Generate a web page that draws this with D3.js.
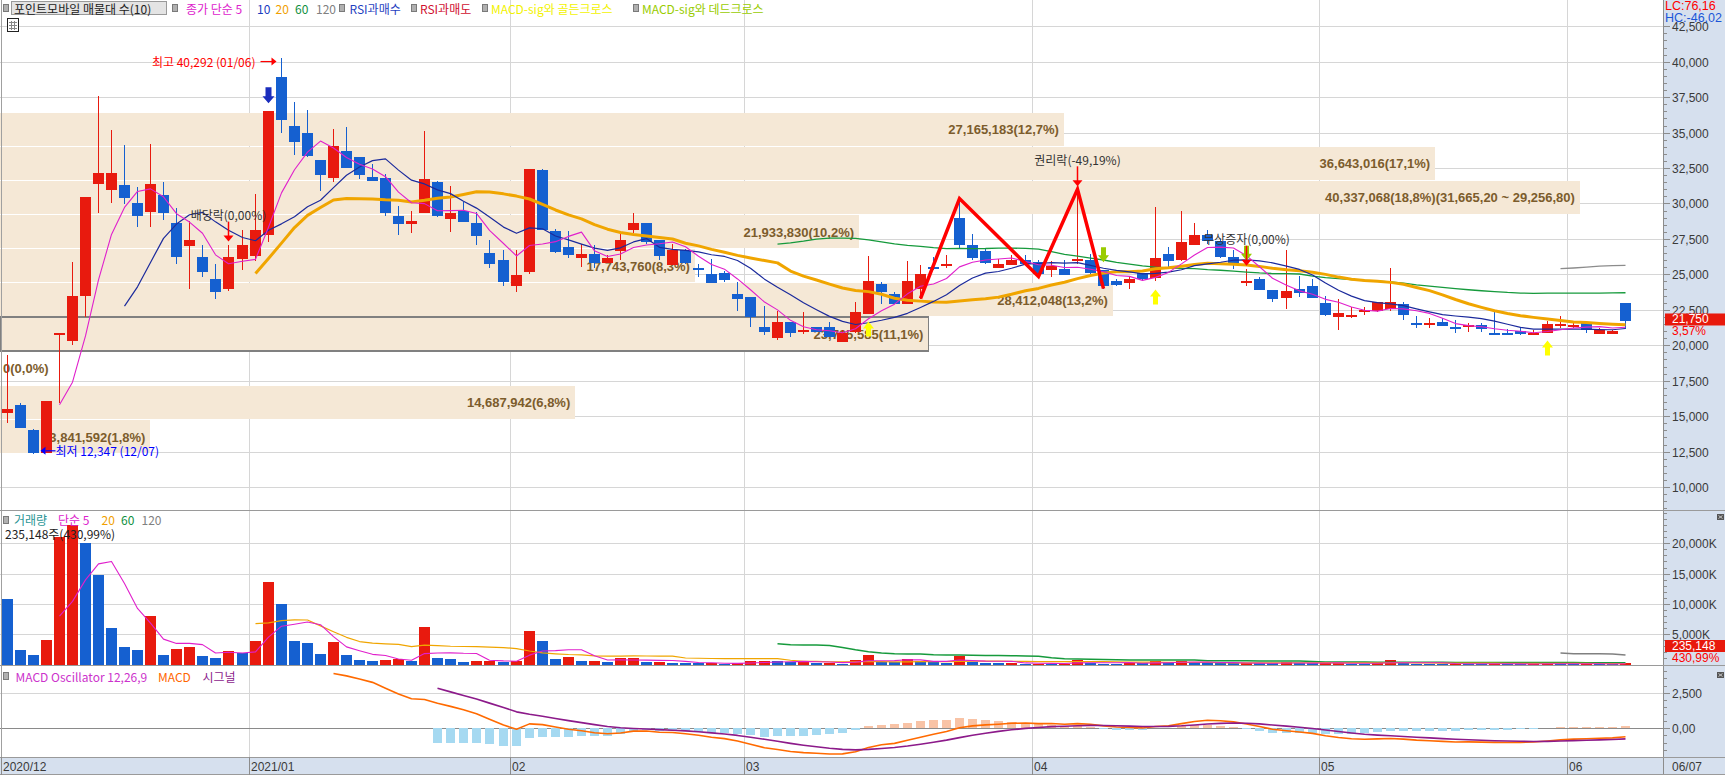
<!DOCTYPE html>
<html><head><meta charset="utf-8">
<script src="https://cdn.jsdelivr.net/npm/d3@7/dist/d3.min.js"></script>
<style>
html,body{margin:0;padding:0;background:#fff;overflow:hidden;}
svg{display:block;}
text{font-family:"Liberation Sans Narrow","Liberation Sans","Noto Sans CJK KR",sans-serif;}
.kr{font-family:"Noto Sans CJK KR","Liberation Sans",sans-serif;}
</style></head><body>
<svg id="chart" width="1725" height="775"></svg>
<script>
// ---------------- DATA ----------------
const dates = [
"2020-12-03","2020-12-04","2020-12-07","2020-12-08","2020-12-09","2020-12-10","2020-12-11","2020-12-14","2020-12-15","2020-12-16","2020-12-17","2020-12-18","2020-12-21","2020-12-22","2020-12-23","2020-12-24","2020-12-28","2020-12-29","2020-12-30",
"2021-01-04","2021-01-05","2021-01-06","2021-01-07","2021-01-08","2021-01-11","2021-01-12","2021-01-13","2021-01-14","2021-01-15","2021-01-18","2021-01-19","2021-01-20","2021-01-21","2021-01-22","2021-01-25","2021-01-26","2021-01-27","2021-01-28","2021-01-29",
"2021-02-01","2021-02-02","2021-02-03","2021-02-04","2021-02-05","2021-02-08","2021-02-09","2021-02-10","2021-02-15","2021-02-16","2021-02-17","2021-02-18","2021-02-19","2021-02-22","2021-02-23","2021-02-24","2021-02-25","2021-02-26",
"2021-03-02","2021-03-03","2021-03-04","2021-03-05","2021-03-08","2021-03-09","2021-03-10","2021-03-11","2021-03-12","2021-03-15","2021-03-16","2021-03-17","2021-03-18","2021-03-19","2021-03-22","2021-03-23","2021-03-24","2021-03-25","2021-03-26","2021-03-29","2021-03-30","2021-03-31",
"2021-04-01","2021-04-02","2021-04-05","2021-04-06","2021-04-07","2021-04-08","2021-04-09","2021-04-12","2021-04-13","2021-04-14","2021-04-15","2021-04-16","2021-04-19","2021-04-20","2021-04-21","2021-04-22","2021-04-23","2021-04-26","2021-04-27","2021-04-28","2021-04-29","2021-04-30",
"2021-05-03","2021-05-04","2021-05-06","2021-05-07","2021-05-10","2021-05-11","2021-05-12","2021-05-13","2021-05-14","2021-05-17","2021-05-18","2021-05-20","2021-05-21","2021-05-24","2021-05-25","2021-05-26","2021-05-27","2021-05-28","2021-05-31",
"2021-06-01","2021-06-02","2021-06-03","2021-06-04","2021-06-07"];

const openP = [15200,15800,14000,12400,20900,20300,23500,31350,30950,31300,30000,29350,30600,28600,27050,26200,24650,23950,26100,
 26300,27750,38900,35500,34950,33050,31800,33700,33250,31850,31800,29150,28550,29300,31500,28900,29500,28600,26500,26050,
 24200,25150,32350,28050,26900,26150,26450,25800,26650,28150,28650,27400,25700,26700,25450,25050,25100,23650,
 23400,21300,20550,21650,20900,21300,21300,20300,20950,22250,24300,23650,22950,23950,25500,25550,28950,27100,26650,25450,25700,26050,
 25900,25300,25350,25950,26050,25300,24550,24350,25100,24750,26450,25950,27100,27800,27350,26200,24500,24650,23900,23300,23950,24200,
 22950,22000,22000,22350,22450,22550,22900,21600,21450,21650,21300,21250,21400,20900,20900,21000,20800,20900,21400,
 21250,21650,20800,20800,23000];
const highP = [19300,15950,14100,16100,20900,25850,30450,37550,35150,34100,31150,34200,31500,29650,28750,27100,25750,27100,28150,
 30650,36500,40292,37150,36600,33050,35250,35400,33250,32800,32100,29800,29500,35100,31600,31250,30100,29400,27450,26700,
 26700,32400,32400,28200,28050,27150,27100,26400,28000,29350,28650,27400,27150,26800,25750,26100,25250,24450,
 23400,22750,22450,21650,22350,21300,21650,21050,23050,26300,24450,23750,25950,25650,26250,26400,30350,27850,26800,26100,26400,26350,
 26050,25950,26000,31000,26450,25300,24700,24900,25100,29750,26900,29450,28600,28150,27500,26700,25400,24850,23900,26700,24900,24700,
 23450,23300,22700,22700,23050,25450,23050,22050,21950,21950,21800,21550,21550,22400,21150,21200,21100,21700,22050,
 21650,21650,21250,21100,23000];
const lowP = [14500,14150,12347,12400,15900,20000,22000,29300,30000,29950,28350,28350,28850,25700,23950,24850,23250,23800,25300,
 25950,27300,35000,33450,33300,30850,31550,32500,31750,31600,29150,27800,27900,29300,29050,28000,28700,27050,25450,24150,
 23750,25050,28100,26500,26150,25500,25450,25800,26050,27900,27150,26050,25700,25750,24800,24400,24450,22450,
 21300,20700,20350,20600,20800,20950,20600,20300,20900,22250,22900,22950,22950,23300,25300,25450,26800,26000,25700,25450,25650,25750,
 24850,24850,24950,25750,25050,24000,24200,24000,24600,24500,25550,25950,27100,27150,26150,25400,24200,23900,23050,22550,23400,23350,
 22100,21100,21950,22150,22350,22450,21800,21250,21250,21350,20900,20950,20950,20750,20750,20750,20750,20900,21250,
 21200,20900,20800,20800,21150];
const closeP = [15500,14150,12400,16100,20900,23450,30450,32150,32150,30400,29100,31350,29350,26200,27450,25150,23750,26200,27100,
 28100,36500,35850,34350,33300,32000,34050,32500,32000,31600,29300,28600,28750,31700,29100,29350,28700,27650,25700,24500,
 24950,32400,28150,26550,26350,26450,25800,26150,27450,28650,27300,26250,26750,25800,25300,24400,24600,23300,
 22000,20950,21650,20900,21050,20950,20600,20900,22350,24550,23750,22950,24550,25000,25350,25700,27050,26200,25800,25700,26050,25800,
 25050,25600,24950,26100,25100,24200,24250,24650,24700,26150,25950,27250,27800,27350,26250,25650,24550,23900,23300,23800,23650,23350,
 22100,22250,22150,22500,23050,23050,22100,21500,21550,21350,21150,21400,21100,20850,20800,20800,20900,21500,21500,
 21400,21100,21100,21000,21750];
// volume, thousands of shares
const volumeK = [10800,2400,1550,4050,21100,23000,20100,14750,6100,2900,2400,8000,1550,2550,2900,1400,1050,2250,1850,
 3900,13600,10000,3900,3600,1750,3750,1550,750,580,750,850,630,6200,1050,900,470,500,630,470,
 630,5500,3900,910,1240,580,610,410,1070,1090,410,430,330,300,180,200,80,190,
 570,600,580,350,470,300,320,140,740,1570,360,350,910,630,360,300,1460,410,250,240,260,140,
 150,140,150,800,250,150,140,250,200,630,250,580,300,250,220,200,280,200,180,400,200,170,
 250,300,150,130,180,740,250,150,130,120,140,120,110,150,60,50,70,250,150,
 90,120,70,44.285,235.148];

// 매물대 (volume by price, 10 bands, bottom -> top)
const bandLow  = [12398.0,14806.4,17214.8,19623.2,22031.6,24440.0,26848.4,29256.8,31665.2,34073.6];
const bandHigh = [14806.4,17214.8,19623.2,22031.6,24440.0,26848.4,29256.8,31665.2,34073.6,36482.0];
const bandVol  = [3841592,14687942,0,23705585,28412048,17743760,21933830,40337068,36643016,27165183];
const bandPct  = [1.8,6.8,0.0,11.1,13.2,8.3,10.2,18.8,17.1,12.7];

// signals / events
const rsiOverboughtIdx = [20];
const goldenCrossIdx = [66, 88, 118];
const deadCrossIdx = [84, 95];
const eventIdx = [17, 82, 95];
const eventLabels = ["배당락(0,00%)", "권리락(-49,19%)", "무상증자(0,00%)"];
const patternIdx = [70, 73, 79, 82, 84];
const patternKind = ["L","H","L","H","L"];

// ticks
const priceTicks = [10000,12500,15000,17500,20000,22500,25000,27500,30000,32500,35000,37500,40000,42500];
const volTicks = [5000,10000,15000,20000];
const macdTicks = [0, 2500];
const macdTickLabels = ["0,00", "2,500"];
const monthLabels = ["2020/12","2021/01","02","03","04","05","06"];
const lastDateLabel = "06/07";

// ---------------- SETUP ----------------
const svg = d3.select('#chart');
const PR = 1663, AXR = 1725;
const MAIN=[0,510], VOL=[511,665], MAC=[666,757], DAX=[757,775];
const N = dates.length, idx = d3.range(N);
const x = d3.scaleBand().domain(idx).range([0.6, 1631.85]).paddingInner(0.16).paddingOuter(0.08);
const bw = Math.round(x.bandwidth());
const bx = i => Math.round(x(i));
const xc = i => bx(i) + bw/2;
const slotL = i => x(i) - x.step()*x.paddingInner()/2;
const yP = d3.scaleLinear().domain([8385, 44351]).range([510, 0]);
const yV = d3.scaleLinear().domain([0, 25330]).range([664.5, 511]);
const yM = d3.scaleLinear().domain([-2015, 4375]).range([757, 666]);

const RED="#e81a0e", BLUE="#1560d0";
const comma = s => s.replace(".", ",");
const AXF = 12;

function sma(arr, n){ return arr.map((v,i)=> i<n-1 ? null : d3.mean(arr.slice(i-n+1,i+1))); }
function emaSeed(arr, n, start){ // SMA-seeded EMA beginning at index start
  const out = arr.map(()=>null), a = 2/(n+1);
  const s0 = start + n - 1;
  if (s0 >= arr.length) return out;
  out[s0] = d3.mean(arr.slice(start, s0+1));
  for (let i=s0+1;i<arr.length;i++) out[i] = out[i-1] + a*(arr[i]-out[i-1]);
  return out;
}
const ma = {5:sma(closeP,5),10:sma(closeP,10),20:sma(closeP,20),60:sma(closeP,60),120:sma(closeP,120)};
const vma = {5:sma(volumeK,5),20:sma(volumeK,20),60:sma(volumeK,60),120:sma(volumeK,120)};
const e12 = emaSeed(closeP,12,0), e26 = emaSeed(closeP,26,0);
const macd = idx.map(i => (e12[i]!=null && e26[i]!=null) ? e12[i]-e26[i] : null);
const firstM = macd.findIndex(v=>v!=null);
const signal = emaSeed(macd.map(v=>v==null?0:v), 9, firstM);
const osc = idx.map(i => (macd[i]!=null && signal[i]!=null) ? macd[i]-signal[i] : null);

// defs / clips
const defs = svg.append('defs');
[['clipMain',MAIN],['clipVol',VOL],['clipMac',MAC]].forEach(([id,r])=>{
  defs.append('clipPath').attr('id',id).append('rect').attr('x',0).attr('y',r[0]).attr('width',PR).attr('height',r[1]-r[0]);
});

svg.append('rect').attr('width',1725).attr('height',775).attr('fill','#fff');

// ---------------- GRID ----------------
const grid = svg.append('g').attr('shape-rendering','crispEdges').attr('stroke','#d6d6d6');
const monthStart = idx.filter(i => i===0 || dates[i].slice(0,7)!==dates[i-1].slice(0,7));
monthStart.forEach(i=>{
  const gx = Math.round(slotL(i))+0.5;
  grid.append('line').attr('x1',gx).attr('x2',gx).attr('y1',0).attr('y2',MAC[1]);
});
priceTicks.forEach(t=>grid.append('line').attr('x1',0).attr('x2',PR).attr('y1',Math.round(yP(t))+0.5).attr('y2',Math.round(yP(t))+0.5));
volTicks.forEach(t=>grid.append('line').attr('x1',0).attr('x2',PR).attr('y1',Math.round(yV(t))+0.5).attr('y2',Math.round(yV(t))+0.5));
grid.append('line').attr('x1',0).attr('x2',PR).attr('y1',Math.round(yM(2500))+0.5).attr('y2',Math.round(yM(2500))+0.5);

// ---------------- MAIN PANE ----------------
const gMain = svg.append('g').attr('clip-path','url(#clipMain)');
const wS = d3.scaleLinear().domain([0, d3.max(bandVol)]).range([0, PR*0.95]);
const maxBand = bandVol.indexOf(d3.max(bandVol));
const lastClose = closeP[N-1];
const gBand = gMain.append('g');
bandVol.forEach((v,k)=>{
  const y1 = Math.round(yP(bandHigh[k]))+1, y2 = Math.round(yP(bandLow[k]));
  const cur = lastClose>=bandLow[k] && lastClose<bandHigh[k];
  if (wS(v)>0) gBand.append('rect').attr('x',0).attr('y',y1).attr('width',wS(v)).attr('height',y2-y1)
      .attr('fill','#f5e8d6').attr('shape-rendering','crispEdges')
      .attr('stroke', cur ? '#808080':'none').attr('stroke-width',1.2);
});
bandVol.forEach((v,k)=>{
  let s = d3.format(",")(v) + "(" + comma(bandPct[k].toFixed(1)) + "%)";
  if (k===maxBand) s += "(" + comma(d3.format(",.2f")(bandHigh[k])) + " ~ " + comma(d3.format(",.2f")(bandLow[k])) + ")";
  const cy = (yP(bandHigh[k])+yP(bandLow[k]))/2 + 1;
  const t = gBand.append('text').text(s).attr('y',cy).attr('dominant-baseline','central')
     .style('font-family','"Liberation Sans",sans-serif').attr('font-weight','bold').attr('font-size',13).attr('fill','#7c5c2c');
  const tw = t.node().getComputedTextLength();
  if (wS(v) < tw + 10) t.attr('x',3); else t.attr('x', wS(v)-5).attr('text-anchor','end');
});

// candles
const gCand = gMain.append('g').attr('shape-rendering','crispEdges');
const col = i => closeP[i]>=openP[i] ? RED : BLUE;
gCand.selectAll('line').data(idx).join('line')
  .attr('x1',i=>bx(i)+Math.floor(bw/2)+0.5).attr('x2',i=>bx(i)+Math.floor(bw/2)+0.5)
  .attr('y1',i=>yP(highP[i])).attr('y2',i=>yP(lowP[i])).attr('stroke',col).attr('stroke-width',1);
gCand.selectAll('rect').data(idx).join('rect')
  .attr('x',bx).attr('width',bw)
  .attr('y',i=>Math.round(yP(Math.max(openP[i],closeP[i]))))
  .attr('height',i=>Math.max(2, Math.round(Math.abs(yP(openP[i])-yP(closeP[i])))))
  .attr('fill',col);

// MA lines
function drawLine(g, arr, ys, color, w){
  g.append('path').datum(idx.filter(i=>arr[i]!=null))
   .attr('d', d3.line().x(i=>xc(i)).y(i=>ys(arr[i])))
   .attr('fill','none').attr('stroke',color).attr('stroke-width',w).attr('stroke-linejoin','round');
}
drawLine(gMain, ma[120], yP, '#8c8c8c', 1.3);
drawLine(gMain, ma[60], yP, '#169a3c', 1.3);
drawLine(gMain, ma[20], yP, '#f0a500', 3);
drawLine(gMain, ma[10], yP, '#1b2a9c', 1.2);
drawLine(gMain, ma[5], yP, '#e020cc', 1.1);

// pattern zigzag
gMain.append('path').datum(patternIdx)
  .attr('d', d3.line().x(i=>xc(i)).y((i,k)=>yP(patternKind[k]==='H'?highP[i]:lowP[i])))
  .attr('fill','none').attr('stroke','#ff0000').attr('stroke-width',3.5).attr('stroke-linejoin','miter');

// arrows
function arrowPath(cx, tip, L, w, s, dir){ // dir 1: points down, -1: points up
  const h = 7*dir, b = tip - L*dir;
  return `M${cx-s/2},${b}L${cx+s/2},${b}L${cx+s/2},${tip-h}L${cx+w/2},${tip-h}L${cx},${tip}L${cx-w/2},${tip-h}L${cx-s/2},${tip-h}Z`;
}
rsiOverboughtIdx.forEach(i=>gMain.append('path').attr('d',arrowPath(xc(i), yP(highP[i])-8, 16, 12, 6, 1)).attr('fill','#1a2dbd'));
goldenCrossIdx.forEach(i=>gMain.append('path').attr('d',arrowPath(xc(i), yP(lowP[i])+8, 15, 11, 5, -1)).attr('fill','#ffff00'));
deadCrossIdx.forEach(i=>gMain.append('path').attr('d',arrowPath(xc(i), yP(highP[i])-8, 15, 11, 5, 1)).attr('fill','#99cc00'));
eventIdx.forEach((i,k)=>{
  const tip = yP(highP[i])-3, cx = xc(i);
  gMain.append('line').attr('x1',cx).attr('x2',cx).attr('y1',tip-20).attr('y2',tip-5).attr('stroke','#ff0000').attr('stroke-width',1.5);
  gMain.append('path').attr('d',`M${cx-5},${tip-6}L${cx+5},${tip-6}L${cx},${tip}Z`).attr('fill','#ff0000');
  gMain.append('text').attr('class','kr').text(eventLabels[k]).attr('x',cx).attr('y',tip-27)
    .attr('text-anchor','middle').attr('dominant-baseline','central').attr('font-size',12).attr('fill','#333');
});

// max / min labels
const iMax = d3.maxIndex(highP), iMin = d3.minIndex(lowP);
const md = s => s.slice(5,7)+"/"+s.slice(8,10);
{
  const cx = xc(iMax), yy = yP(highP[iMax])+4;
  gMain.append('line').attr('x1',cx-21).attr('x2',cx-9).attr('y1',yy).attr('y2',yy).attr('stroke','#ff0000').attr('stroke-width',1.2);
  gMain.append('path').attr('d',`M${cx-10},${yy-4}L${cx-5},${yy}L${cx-10},${yy+4}Z`).attr('fill','#ff0000');
  gMain.append('text').attr('class','kr').text(`최고 ${d3.format(",")(highP[iMax])} (${md(dates[iMax])})`)
    .attr('x',cx-26).attr('y',yy).attr('text-anchor','end').attr('dominant-baseline','central').attr('font-size',12).attr('fill','#ff0000');
}
{
  const cx = xc(iMin), yy = yP(lowP[iMin])-3;
  gMain.append('line').attr('x1',cx+12).attr('x2',cx+22).attr('y1',yy).attr('y2',yy).attr('stroke','#0000ff').attr('stroke-width',1.2);
  gMain.append('path').attr('d',`M${cx+12},${yy-4}L${cx+7},${yy}L${cx+12},${yy+4}Z`).attr('fill','#0000ff');
  gMain.append('text').attr('class','kr').text(`최저 ${d3.format(",")(lowP[iMin])} (${md(dates[iMin])})`)
    .attr('x',cx+22).attr('y',yy).attr('dominant-baseline','central').attr('font-size',12).attr('fill','#0000ff');
}

// ---------------- VOLUME PANE ----------------
const gVol = svg.append('g').attr('clip-path','url(#clipVol)');
const vcol = i => (i>0 && volumeK[i]>volumeK[i-1]) ? RED : BLUE;
gVol.selectAll('rect').data(idx).join('rect').attr('shape-rendering','crispEdges')
  .attr('x',bx).attr('width',bw)
  .attr('y',i=>Math.round(yV(volumeK[i]))).attr('height',i=>Math.max(1, Math.round(yV(0))-Math.round(yV(volumeK[i]))))
  .attr('fill',vcol);
drawLine(gVol, vma[120], yV, '#808080', 1.5);
drawLine(gVol, vma[60], yV, '#169a3c', 1.5);
drawLine(gVol, vma[20], yV, '#f0a500', 1.2);
drawLine(gVol, vma[5], yV, '#e020cc', 1.1);

// ---------------- MACD PANE ----------------
const gMac = svg.append('g').attr('clip-path','url(#clipMac)');
gMac.append('line').attr('x1',0).attr('x2',PR).attr('y1',Math.round(yM(0))+0.5).attr('y2',Math.round(yM(0))+0.5).attr('stroke','#8a8a8a').attr('shape-rendering','crispEdges');
gMac.selectAll('rect').data(idx.filter(i=>osc[i]!=null)).join('rect').attr('shape-rendering','crispEdges')
  .attr('x',i=>bx(i)+1).attr('width',bw-2)
  .attr('y',i=>Math.min(yM(0),yM(osc[i]))).attr('height',i=>Math.abs(yM(osc[i])-yM(0)))
  .attr('fill',i=>osc[i]>=0?'#f8c3a6':'#a5d9f1');
drawLine(gMac, macd, yM, '#ff6a00', 1.6);
drawLine(gMac, signal, yM, '#8c1a8a', 1.6);

// ---------------- FRAMES / AXES ----------------
const fr = svg.append('g').attr('shape-rendering','crispEdges');
fr.append('rect').attr('x',PR).attr('y',0).attr('width',AXR-PR).attr('height',MAC[1]).attr('fill','#d6e0ee');
fr.append('rect').attr('x',0).attr('y',DAX[0]).attr('width',AXR).attr('height',DAX[1]-DAX[0]).attr('fill','#d6e0ee');
fr.append('line').attr('x1',PR+0.5).attr('x2',PR+0.5).attr('y1',0).attr('y2',775).attr('stroke','#8c8c8c');
fr.append('line').attr('x1',1.5).attr('x2',1.5).attr('y1',0).attr('y2',MAC[1]).attr('stroke','#a0a0a0');
[510.5, 665.5].forEach(yy=>fr.append('line').attr('x1',0).attr('x2',AXR).attr('y1',yy).attr('y2',yy).attr('stroke','#9a9a9a').attr('stroke-width',1.5));
fr.append('line').attr('x1',0).attr('x2',AXR).attr('y1',757.5).attr('y2',757.5).attr('stroke','#9a9a9a').attr('stroke-width',1.5);
fr.append('line').attr('x1',0).attr('x2',AXR).attr('y1',774.5).attr('y2',774.5).attr('stroke','#9a9a9a');

const axG = svg.append('g');
function axisTicks(ys, ticks, labels, minors, r){
  minors.forEach(t=>{ const yy=Math.round(ys(t))+0.5; if(yy>r[0]+2&&yy<r[1]-1)
    axG.append('line').attr('x1',PR).attr('x2',PR+4).attr('y1',yy).attr('y2',yy).attr('stroke','#8c8c8c').attr('shape-rendering','crispEdges'); });
  ticks.forEach((t,k)=>{ const yy=Math.round(ys(t))+0.5;
    axG.append('line').attr('x1',PR).attr('x2',PR+7).attr('y1',yy).attr('y2',yy).attr('stroke','#8c8c8c').attr('shape-rendering','crispEdges');
    axG.append('text').text(labels[k]).attr('x',PR+9).attr('y',yy).attr('dominant-baseline','central').attr('font-size',AXF).attr('fill','#3a3a3a'); });
}
axisTicks(yP, priceTicks, priceTicks.map(d3.format(",")), d3.range(8500,44500,500), MAIN);
axisTicks(yV, volTicks, volTicks.map(t=>d3.format(",")(t)+"K"), d3.range(1000,26000,1000), VOL);
axisTicks(yM, macdTicks, macdTickLabels, d3.range(-2000,4500,500), MAC);

// LC / HC
axG.append('rect').attr('x',PR+1).attr('y',0).attr('width',AXR-PR-1).attr('height',22).attr('fill','#d6e0ee');
const lc = (lastClose/d3.min(lowP)-1)*100, hc = (lastClose/d3.max(highP)-1)*100;
axG.append('text').text("LC:"+comma(lc.toFixed(2))).attr('x',PR+2).attr('y',5.5).attr('dominant-baseline','central').attr('font-size',12.5).attr('fill','#ff0000');
axG.append('text').text("HC:"+comma(hc.toFixed(2))).attr('x',PR+2).attr('y',17.5).attr('dominant-baseline','central').attr('font-size',12.5).attr('fill','#1a55d8');

// current price
{
  const yy = yP(lastClose), chg = (lastClose/closeP[N-2]-1)*100;
  axG.append('rect').attr('x',PR+2).attr('y',yy-7).attr('width',AXR-PR-2).attr('height',12).attr('fill','#e8190c');
  axG.append('text').text(d3.format(",")(lastClose)).attr('x',PR+9).attr('y',yy-1).attr('dominant-baseline','central').attr('font-size',AXF).attr('fill','#fff');
  axG.append('text').text(comma(chg.toFixed(2))+"%").attr('x',PR+9).attr('y',yy+11).attr('dominant-baseline','central').attr('font-size',AXF).attr('fill','#ff0000');
}
const lastVol = volumeK[N-1], volChg = (lastVol/volumeK[N-2]-1)*100;
{
  const yy = Math.min(yV(lastVol), VOL[1]-19);
  axG.append('rect').attr('x',PR+2).attr('y',yy-6).attr('width',AXR-PR-2).attr('height',12).attr('fill','#e8190c');
  axG.append('text').text(d3.format(",")(Math.round(lastVol*1000))).attr('x',PR+9).attr('y',yy).attr('dominant-baseline','central').attr('font-size',AXF).attr('fill','#fff');
  axG.append('text').text(comma(volChg.toFixed(2))+"%").attr('x',PR+9).attr('y',yy+12).attr('dominant-baseline','central').attr('font-size',AXF).attr('fill','#ff0000');
}
// pane icons
[VOL[0]+3, MAC[0]+6].forEach(yy=>{
  axG.append('rect').attr('x',1717).attr('y',yy).attr('width',7).attr('height',6).attr('fill','#555');
  axG.append('path').attr('d',`M1718.5,${yy+1.5}L1722.5,${yy+4.5}M1722.5,${yy+1.5}L1718.5,${yy+4.5}`).attr('stroke','#ddd').attr('stroke-width',0.8);
});

// date axis
monthStart.forEach((i,k)=>{
  const gx = Math.round(slotL(i))+0.5;
  axG.append('line').attr('x1',gx).attr('x2',gx).attr('y1',DAX[0]).attr('y2',DAX[1]).attr('stroke','#8c8c8c').attr('shape-rendering','crispEdges');
  axG.append('text').text(monthLabels[k]).attr('x',gx+1.5).attr('y',766.5).attr('dominant-baseline','central').attr('font-size',AXF).attr('fill','#3a3a3a');
});
axG.append('text').text(lastDateLabel).attr('x',PR+9).attr('y',766.5).attr('dominant-baseline','central').attr('font-size',AXF).attr('fill','#3a3a3a');

// ---------------- LEGENDS ----------------
const lg = svg.append('g');
function sq(xx, yy){ lg.append('rect').attr('x',xx+0.5).attr('y',yy+0.5).attr('width',5).attr('height',7).attr('fill','#b0b0b0').attr('stroke','#7a7a7a').attr('shape-rendering','crispEdges'); }
function lt(s, xx, yy, c, cls){ lg.append('text').attr('class',cls||'kr').text(s).attr('x',xx).attr('y',yy).attr('dominant-baseline','central').attr('font-size',12).attr('fill',c); }
sq(3,4);
lg.append('rect').attr('x',11.5).attr('y',1.5).attr('width',155).attr('height',13).attr('fill','#e4e4e4').attr('stroke','#9a9a9a').attr('shape-rendering','crispEdges');
lt("포인트모바일 매물대 수(10)", 14, 8.5, '#222');
sq(172,4);
lt("종가 단순 5", 186, 8.5, '#dd22cc');
lt("10", 257, 8.5, '#1a3bc0');
lt("20", 275.5, 8.5, '#f0a000');
lt("60", 295, 8.5, '#109040');
lt("120", 316, 8.5, '#808080');
sq(339,4);
lt("RSI과매수", 349.5, 8.5, '#1f3fbf');
sq(411,4);
lt("RSI과매도", 420, 8.5, '#d01030');
sq(482,4);
lt("MACD-sig와 골든크로스", 491, 8.5, '#f2f200');
sq(633,4);
lt("MACD-sig와 데드크로스", 642, 8.5, '#99cc00');
// grid icon
lg.append('rect').attr('x',7.5).attr('y',18.5).attr('width',11).attr('height',13).attr('fill','#fff').attr('stroke','#222').attr('shape-rendering','crispEdges');
[11.5,14.5].forEach(xx=>lg.append('line').attr('x1',xx).attr('x2',xx).attr('y1',21).attr('y2',29.5).attr('stroke','#888').attr('shape-rendering','crispEdges'));
[22.5,25.5,28.5].forEach(yy=>lg.append('line').attr('x1',9).attr('x2',17).attr('y1',yy).attr('y2',yy).attr('stroke','#888').attr('shape-rendering','crispEdges'));

// volume legend
sq(3,516);
lt("거래량", 14, 519.5, '#2a9595');
lt("단순 5", 58, 519.5, '#dd22cc');
lt("20", 101.5, 519.5, '#f0a000');
lt("60", 121, 519.5, '#109040');
lt("120", 141.5, 519.5, '#808080');
lt(d3.format(",")(Math.round(lastVol*1000))+"주("+comma(volChg.toFixed(2))+"%)", 5, 533.5, '#222');

// macd legend
sq(3,672);
lt("MACD Oscillator 12,26,9", 15.5, 676, '#cc33cc');
lt("MACD", 158, 676, '#ff6600');
lt("시그널", 202.5, 676, '#8b1a8b');
</script>
</body></html>
